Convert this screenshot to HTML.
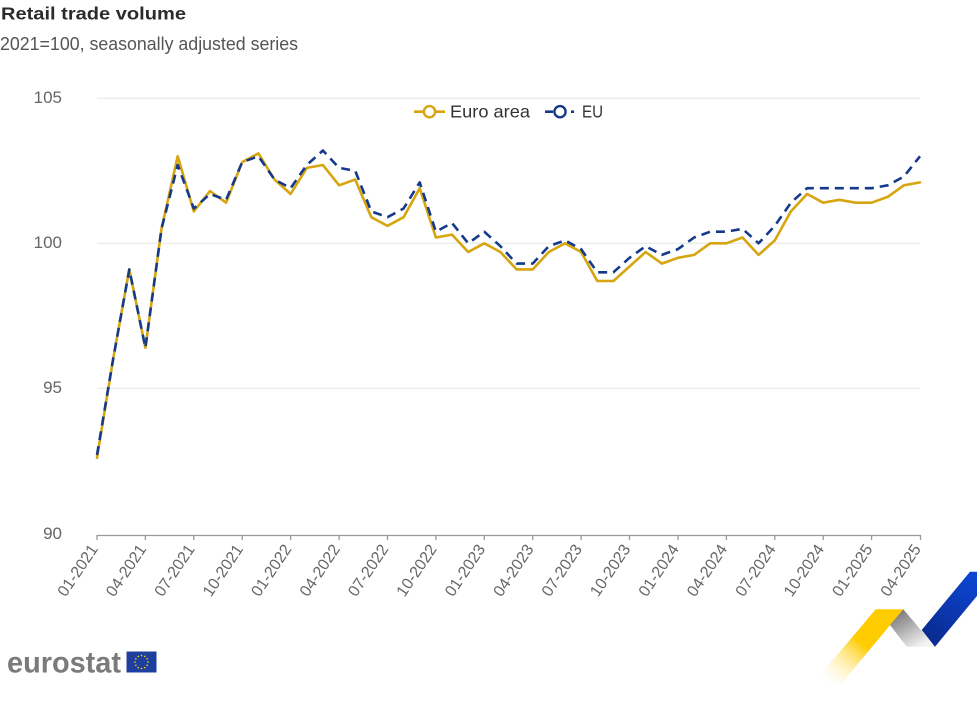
<!DOCTYPE html>
<html>
<head>
<meta charset="utf-8">
<style>
  html,body{margin:0;padding:0;background:#fff;}
  svg{display:block;font-family:"Liberation Sans",Arial,sans-serif;}
</style>
</head>
<body>
<svg width="977" height="717" viewBox="0 0 977 717" xmlns="http://www.w3.org/2000/svg">
  <defs>
    <linearGradient id="gy" x1="889" y1="609" x2="827" y2="683" gradientUnits="userSpaceOnUse">
      <stop offset="0" stop-color="#ffcc00"/>
      <stop offset="0.45" stop-color="#ffcc00"/>
      <stop offset="1" stop-color="#ffffff" stop-opacity="0.2"/>
    </linearGradient>
    <linearGradient id="gg" x1="900" y1="612" x2="920" y2="646" gradientUnits="userSpaceOnUse">
      <stop offset="0" stop-color="#7d7d7d"/>
      <stop offset="1" stop-color="#f2f2f2"/>
    </linearGradient>
    <linearGradient id="gb" x1="975" y1="572" x2="928" y2="640" gradientUnits="userSpaceOnUse">
      <stop offset="0" stop-color="#0c47d6"/>
      <stop offset="1" stop-color="#0a2a8e"/>
    </linearGradient>
  </defs>

  <!-- Title -->
  <text x="1" y="19.5" font-size="17.5" font-weight="bold" fill="#2b2b2b" textLength="185" lengthAdjust="spacingAndGlyphs">Retail trade volume</text>
  <text x="0" y="50" font-size="18" fill="#555" textLength="298" lengthAdjust="spacingAndGlyphs">2021=100, seasonally adjusted series</text>

  <!-- Grid -->
  <g stroke="#e3e6e8" stroke-width="1">
    <line x1="97" y1="98.3" x2="920" y2="98.3"/>
    <line x1="97" y1="243.3" x2="920" y2="243.3"/>
    <line x1="97" y1="388.3" x2="920" y2="388.3"/>
  </g>

  <!-- Y labels -->
  <g font-size="17" fill="#666" text-anchor="end">
    <text x="62" y="102.8">105</text>
    <text x="62" y="247.8">100</text>
    <text x="62" y="392.8">95</text>
    <text x="62" y="539">90</text>
  </g>

  <!-- X axis -->
  <line x1="97" y1="535.5" x2="921" y2="535.5" stroke="#999" stroke-width="1.3"/>
  <g stroke="#999" stroke-width="1.3">
    <line x1="97.0" y1="535" x2="97.0" y2="540"/>
    <line x1="145.4" y1="535" x2="145.4" y2="540"/>
    <line x1="193.8" y1="535" x2="193.8" y2="540"/>
    <line x1="242.2" y1="535" x2="242.2" y2="540"/>
    <line x1="290.6" y1="535" x2="290.6" y2="540"/>
    <line x1="339.1" y1="535" x2="339.1" y2="540"/>
    <line x1="387.5" y1="535" x2="387.5" y2="540"/>
    <line x1="435.9" y1="535" x2="435.9" y2="540"/>
    <line x1="484.3" y1="535" x2="484.3" y2="540"/>
    <line x1="532.7" y1="535" x2="532.7" y2="540"/>
    <line x1="581.1" y1="535" x2="581.1" y2="540"/>
    <line x1="629.5" y1="535" x2="629.5" y2="540"/>
    <line x1="678.0" y1="535" x2="678.0" y2="540"/>
    <line x1="726.4" y1="535" x2="726.4" y2="540"/>
    <line x1="774.8" y1="535" x2="774.8" y2="540"/>
    <line x1="823.2" y1="535" x2="823.2" y2="540"/>
    <line x1="871.6" y1="535" x2="871.6" y2="540"/>
    <line x1="920.5" y1="535" x2="920.5" y2="540"/>
  </g>

  <!-- X labels -->
  <g font-size="16" fill="#666" text-anchor="end">
    <text x="98.5" y="549" transform="rotate(-56 98.5 549)">01-2021</text>
    <text x="146.9" y="549" transform="rotate(-56 146.9 549)">04-2021</text>
    <text x="195.3" y="549" transform="rotate(-56 195.3 549)">07-2021</text>
    <text x="243.7" y="549" transform="rotate(-56 243.7 549)">10-2021</text>
    <text x="292.1" y="549" transform="rotate(-56 292.1 549)">01-2022</text>
    <text x="340.6" y="549" transform="rotate(-56 340.6 549)">04-2022</text>
    <text x="389.0" y="549" transform="rotate(-56 389.0 549)">07-2022</text>
    <text x="437.4" y="549" transform="rotate(-56 437.4 549)">10-2022</text>
    <text x="485.8" y="549" transform="rotate(-56 485.8 549)">01-2023</text>
    <text x="534.2" y="549" transform="rotate(-56 534.2 549)">04-2023</text>
    <text x="582.6" y="549" transform="rotate(-56 582.6 549)">07-2023</text>
    <text x="631.0" y="549" transform="rotate(-56 631.0 549)">10-2023</text>
    <text x="679.5" y="549" transform="rotate(-56 679.5 549)">01-2024</text>
    <text x="727.9" y="549" transform="rotate(-56 727.9 549)">04-2024</text>
    <text x="776.3" y="549" transform="rotate(-56 776.3 549)">07-2024</text>
    <text x="824.7" y="549" transform="rotate(-56 824.7 549)">10-2024</text>
    <text x="873.1" y="549" transform="rotate(-56 873.1 549)">01-2025</text>
    <text x="921.5" y="549" transform="rotate(-56 921.5 549)">04-2025</text>
  </g>

  <!-- Series: Euro area -->
  <polyline fill="none" stroke="#d6a50f" stroke-width="2.6" stroke-linejoin="round" stroke-linecap="round"
    points="97.0,457.9 113.1,359.3 129.3,269.4 145.4,347.7 161.5,228.8 177.7,156.3 193.8,211.4 210.0,191.1 226.1,202.7 242.2,162.1 258.4,153.4 274.5,179.5 290.6,194.0 306.8,167.9 322.9,165.0 339.1,185.3 355.2,179.5 371.3,217.2 387.5,225.9 403.6,217.2 419.7,188.2 435.9,237.5 452.0,234.6 468.2,252.0 484.3,243.3 500.4,252.0 516.6,269.4 532.7,269.4 548.8,252.0 565.0,243.3 581.1,252.0 597.3,281.0 613.4,281.0 629.5,266.5 645.7,252.0 661.8,263.6 678.0,257.8 694.1,254.9 710.2,243.3 726.4,243.3 742.5,237.5 758.6,254.9 774.8,240.4 790.9,211.4 807.1,194.0 823.2,202.7 839.3,199.8 855.5,202.7 871.6,202.7 887.7,196.9 903.9,185.3 920.0,182.4"/>

  <!-- Series: EU -->
  <polyline fill="none" stroke="#163a8a" stroke-width="2.6" stroke-dasharray="9,6" stroke-linejoin="round"
    points="97.0,455.0 113.1,359.3 129.3,269.4 145.4,347.7 161.5,228.8 177.7,165.0 193.8,208.5 210.0,194.0 226.1,199.8 242.2,162.1 258.4,156.3 274.5,179.5 290.6,188.2 306.8,165.0 322.9,150.5 339.1,167.9 355.2,170.8 371.3,211.4 387.5,217.2 403.6,208.5 419.7,182.4 435.9,231.7 452.0,223.0 468.2,243.3 484.3,231.7 500.4,246.2 516.6,263.6 532.7,263.6 548.8,246.2 565.0,240.4 581.1,249.1 597.3,272.3 613.4,272.3 629.5,257.8 645.7,246.2 661.8,254.9 678.0,249.1 694.1,237.5 710.2,231.7 726.4,231.7 742.5,228.8 758.6,243.3 774.8,225.9 790.9,202.7 807.1,188.2 823.2,188.2 839.3,188.2 855.5,188.2 871.6,188.2 887.7,185.3 903.9,176.6 920.0,156.3"/>

  <!-- Legend -->
  <line x1="414" y1="111.7" x2="445" y2="111.7" stroke="#d6a50f" stroke-width="2.6"/>
  <circle cx="429.5" cy="111.7" r="5.6" fill="#fff" stroke="#d6a50f" stroke-width="2.4"/>
  <text x="450" y="117.7" font-size="17.5" fill="#333" textLength="80" lengthAdjust="spacingAndGlyphs">Euro area</text>

  <line x1="545" y1="111.7" x2="553" y2="111.7" stroke="#163a8a" stroke-width="2.6"/>
  <circle cx="560" cy="111.7" r="5.6" fill="#fff" stroke="#163a8a" stroke-width="2.4"/>
  <line x1="571" y1="111.7" x2="574" y2="111.7" stroke="#163a8a" stroke-width="2.6"/>
  <text x="582" y="117.7" font-size="17.5" fill="#333" textLength="21" lengthAdjust="spacingAndGlyphs">EU</text>

  <!-- Eurostat logo -->
  <text x="7" y="672.5" font-size="30" font-weight="bold" fill="#7b7b7b" textLength="114" lengthAdjust="spacingAndGlyphs">eurostat</text>
  <rect x="126.5" y="651.5" width="30" height="21" fill="#1f3f9e"/>
  <g fill="#ffdd00">
    <circle cx="141.5" cy="655.5" r="0.8"/>
    <circle cx="144.75" cy="656.37" r="0.8"/>
    <circle cx="147.13" cy="658.75" r="0.8"/>
    <circle cx="148" cy="662" r="0.8"/>
    <circle cx="147.13" cy="665.25" r="0.8"/>
    <circle cx="144.75" cy="667.63" r="0.8"/>
    <circle cx="141.5" cy="668.5" r="0.8"/>
    <circle cx="138.25" cy="667.63" r="0.8"/>
    <circle cx="135.87" cy="665.25" r="0.8"/>
    <circle cx="135" cy="662" r="0.8"/>
    <circle cx="135.87" cy="658.75" r="0.8"/>
    <circle cx="138.25" cy="656.37" r="0.8"/>
  </g>

  <!-- Decoration -->
  <polygon points="875.7,609.3 903.3,609.3 841.7,683.3 813.3,683.3" fill="url(#gy)"/>
  <polygon points="903.3,609.3 935,646.7 906.7,646.7 890,625" fill="url(#gg)"/>
  <polygon points="921.7,630 970,571.7 997,571.7 935,646.7" fill="url(#gb)"/>
</svg>
</body>
</html>
